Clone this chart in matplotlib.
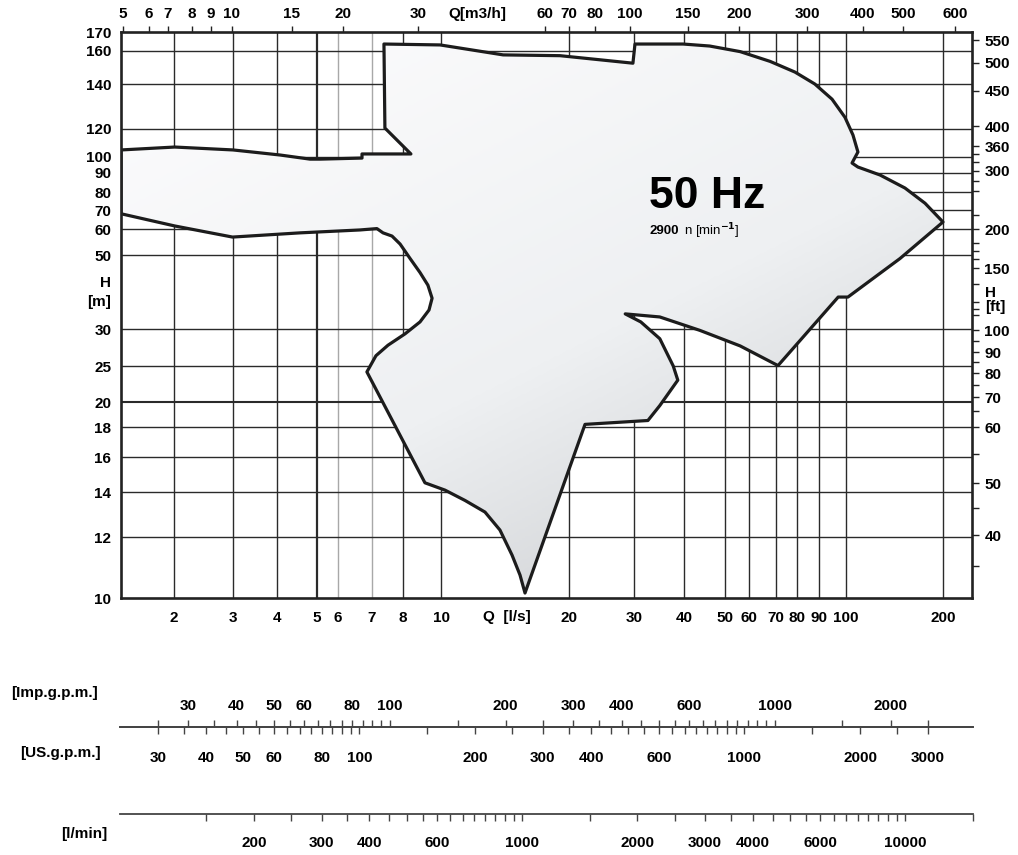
import numpy as np
import matplotlib
matplotlib.use("Agg")
import matplotlib.pyplot as plt
from matplotlib.patches import Polygon
from matplotlib.colors import LinearSegmentedColormap
from matplotlib.ticker import FixedLocator, FixedFormatter, NullLocator

plt.rcParams['font.family'] = ['Liberation Sans', 'DejaVu Sans']
plt.rcParams['font.weight'] = 'bold'

# ---- axis values and where the (hand drawn) chart puts them ----
q_ls_ticks = [2, 3, 4, 5, 6, 7, 8, 10, 20, 30, 40, 50, 60, 70, 80, 90, 100, 200]
q_ls_pos = [174, 233, 277, 317, 338, 372, 403, 441, 569, 634, 684, 725, 749, 776, 797, 819, 846, 943]

q_m3h_ticks = [5, 6, 7, 8, 9, 10, 15, 20, 30, 60, 70, 80, 100, 150, 200, 300, 400, 500, 600]
q_m3h_pos = [123, 149, 168, 192, 211, 232, 292, 343, 418, 545, 569, 595, 630, 688, 739, 807, 863, 903, 955]

h_m_ticks = [10, 12, 14, 16, 18, 20, 25, 30, 50, 60, 70, 80, 90, 100, 120, 140, 160, 170]
h_m_pos = [598, 537, 492, 457, 427, 402, 366, 329, 255, 229, 210, 192, 173, 157, 129, 84, 51, 33]
h_m_grid = [12, 14, 16, 18, 20, 25, 30, 50, 60, 70, 80, 90, 100, 120, 140, 160]

h_ft_ticks = [40, 50, 60, 70, 80, 90, 100, 150, 200, 300, 360, 400, 450, 500, 550]
h_ft_pos = [535, 483, 427, 397, 373, 352, 330, 268, 229, 171, 146, 126, 91, 63, 40]
h_ft_minor = [35, 45, 55, 65, 75, 85, 95, 110, 115, 120, 135, 160, 170, 180, 220, 260, 280, 320, 340]

# ---- duty area outline: Q [l/s], H [m] ----
area_q = [1.39, 2.01, 3.0, 4.07, 4.81, 5.13, 6.69, 6.69, 8.38, 7.40, 7.37, 9.95, 14.0, 19.05,
          29.8, 30.17, 39.8, 46.0, 56.1, 67.7, 79.0, 88.0, 94.7, 99.6, 105.1, 108.9, 104.4,
          108.9, 127.5, 152.4, 175.9, 200,
          147.1, 101.4, 97.0, 70.9, 56.1, 43.6, 34.8, 28.4, 31.2, 34.8, 37.6, 38.6, 34.8, 32.5,
          22.1, 15.76, 15.34, 14.69, 13.76, 12.69, 11.39, 10.22, 9.10,
          6.84, 7.12, 7.50, 8.10, 8.84, 9.32, 9.49, 9.26, 8.84, 8.34, 7.90, 7.63,
          7.34, 7.15, 6.63, 4.55, 2.99, 2.01, 1.39]
area_h = [104.7, 106.7, 104.7, 101.3, 98.6, 98.6, 99.3, 102.0, 102.0, 120.4, 163.8, 163.3,
          157.5, 157.0, 152.3, 163.8, 163.8, 162.7, 159.6, 153.4, 146.9, 140.0, 132.9, 124.9,
          115.4, 103.3, 96.1, 93.6, 88.9, 82.0, 73.6, 63.5,
          48.8, 37.4, 37.4, 25.05, 27.6, 29.8, 32.6, 33.3, 31.5, 28.6, 25.0, 22.9, 19.7, 18.5,
          18.2, 10.15, 10.71, 11.37, 12.29, 13.07, 13.6, 14.1, 14.5,
          24.1, 26.3, 27.7, 29.3, 31.5, 34.2, 37.1, 40.6, 44.3, 48.8, 54.0, 57.1,
          58.4, 60.2, 59.6, 58.4, 56.7, 61.5, 67.9]

# ---- conversion scales under the chart ----
us_ticks = [30, 35, 40, 45, 50, 55, 60, 65, 70, 75, 80, 85, 90, 95, 100, 150, 200, 250, 300,
            350, 400, 450, 500, 550, 600, 650, 700, 750, 800, 850, 900, 950, 1000, 1500, 2000,
            2500, 3000]
us_labels = [30, 40, 50, 60, 80, 100, 200, 300, 400, 600, 1000, 2000, 3000]
imp_ticks = [25, 30, 35, 40, 45, 50, 55, 60, 65, 70, 75, 80, 85, 90, 95, 100, 150, 200, 250,
             300, 350, 400, 450, 500, 550, 600, 650, 700, 750, 800, 850, 900, 950, 1000, 1500,
             2000, 2500]
imp_labels = [30, 40, 50, 60, 80, 100, 200, 300, 400, 600, 1000, 2000]
lmin_ticks = [150, 200, 250, 300, 350, 400, 450, 500, 550, 600, 650, 700, 750, 800, 850, 900,
              950, 1000, 1500, 2000, 2500, 3000, 3500, 4000, 4500, 5000, 5500, 6000, 6500, 7000,
              7500, 8000, 8500, 9000, 9500, 10000, 15000]
lmin_labels = [200, 300, 400, 600, 1000, 2000, 3000, 4000, 6000, 10000]
us_range = (23.9, 3930)
lmin_range = (89.4, 15000)
IMP_TO_US = 1.2


def log_scale(vals, pos):
    """piecewise log scale through the printed tick positions"""
    lv = np.log10(np.asarray(vals, float))
    p = np.asarray(pos, float)
    k0 = (p[1] - p[0]) / (lv[1] - lv[0])
    k1 = (p[-1] - p[-2]) / (lv[-1] - lv[-2])
    lv = np.r_[lv[0] - 2, lv, lv[-1] + 2]
    p = np.r_[p[0] - 2 * k0, p, p[-1] + 2 * k1]

    def fwd(v):
        v = np.asarray(v, float)
        return np.interp(np.log10(np.clip(v, 1e-6, None)), lv, p)

    def inv(q):
        return 10 ** np.interp(np.asarray(q, float), p, lv)
    return fwd, inv


W, H = 1018, 855
X0, Y0, X1, Y1 = 121, 32, 972, 598
FS = 11


def rect(x0, y0, x1, y1):
    return [x0 / W, 1 - y1 / H, (x1 - x0) / W, (y1 - y0) / H]


fig = plt.figure(figsize=(W / 100, H / 100), dpi=100)
ax = fig.add_axes(rect(X0, Y0, X1, Y1))

xf, xi = log_scale(q_ls_ticks, q_ls_pos)
yf, yi = log_scale(h_m_ticks, [-p for p in h_m_pos])
ax.set_xscale('function', functions=(xf, xi))
ax.set_yscale('function', functions=(yf, yi))

# grid
light_v = {6: '#a8a8a8', 7: '#a8a8a8'}
for q in q_ls_ticks:
    ax.axvline(q, color=light_v.get(q, '#2a2a2a'), lw=1.6 if q == 5 else 1.0, zorder=1)
for h in h_m_grid:
    ax.axhline(h, color='#2a2a2a', lw=1.5 if h == 20 else 1.0, zorder=1)

# duty area with a soft gray shading
area = Polygon(np.column_stack([area_q, area_h]), closed=True, facecolor='none',
               edgecolor='#1c1c1c', lw=2.3, joinstyle='round', zorder=4)
ax.add_patch(area)
gx, gy = np.meshgrid(np.linspace(0, 1, 300), np.linspace(0, 1, 300))
shade = np.clip(0.45 * gx + 0.6 * (1 - gy) - 0.1, 0, 1)
cmap = LinearSegmentedColormap.from_list('shade', ['#fbfbfc', '#eef0f2', '#c3c5c8'])
img = ax.imshow(shade, extent=(0, 1, 0, 1), origin='lower', transform=ax.transAxes,
                cmap=cmap, aspect='auto', zorder=3, interpolation='bilinear')
clip = Polygon(np.column_stack([area_q, area_h]), closed=True, transform=ax.transData)
img.set_clip_path(clip)

ax.set_xlim(xi(X0), xi(X1))
ax.set_ylim(yi(-Y1), yi(-Y0))

ax.xaxis.set_major_locator(FixedLocator(q_ls_ticks))
ax.xaxis.set_major_formatter(FixedFormatter([str(v) for v in q_ls_ticks]))
ax.xaxis.set_minor_locator(NullLocator())
ax.yaxis.set_major_locator(FixedLocator(h_m_ticks))
ax.yaxis.set_major_formatter(FixedFormatter([str(v) for v in h_m_ticks]))
ax.yaxis.set_minor_locator(NullLocator())
ax.tick_params(axis='x', length=0, pad=9, labelsize=FS)
ax.tick_params(axis='y', length=0, pad=7, labelsize=FS)
for s in ax.spines.values():
    s.set_linewidth(1.9)
    s.set_color('#222222')
    s.set_zorder(5)

# top axis: Q [m3/h]
ax_t = ax.twiny()
tf, ti = log_scale(q_m3h_ticks, q_m3h_pos)
ax_t.set_xscale('function', functions=(tf, ti))
ax_t.set_xlim(ti(X0), ti(X1))
ax_t.xaxis.set_major_locator(FixedLocator(q_m3h_ticks))
ax_t.xaxis.set_major_formatter(FixedFormatter([str(v) for v in q_m3h_ticks]))
ax_t.xaxis.set_minor_locator(NullLocator())
ax_t.tick_params(axis='x', direction='out', length=4.5, width=1, pad=3.5, labelsize=FS,
                 color='#222222')
for s in ax_t.spines.values():
    s.set_visible(False)

# right axis: H [ft]
ax_r = ax.twinx()
rf, ri = log_scale(h_ft_ticks, [-p for p in h_ft_pos])
ax_r.set_yscale('function', functions=(rf, ri))
ax_r.set_ylim(ri(-Y1), ri(-Y0))
ax_r.yaxis.set_major_locator(FixedLocator(h_ft_ticks))
ax_r.yaxis.set_major_formatter(FixedFormatter([str(v) for v in h_ft_ticks]))
ax_r.yaxis.set_minor_locator(FixedLocator(h_ft_minor))
ax_r.tick_params(axis='y', which='both', direction='out', length=5, width=1, pad=4,
                 labelsize=FS, color='#222222')
for s in ax_r.spines.values():
    s.set_visible(False)

# axis titles and motor data
fig.text(477 / W, 1 - 14 / H, 'Q[m3/h]', ha='center', va='center', fontsize=FS)
fig.text(507 / W, 1 - 617 / H, 'Q  [l/s]', ha='center', va='center', fontsize=FS)
fig.text(111 / W, 1 - 283 / H, 'H', ha='right', va='center', fontsize=FS)
fig.text(111 / W, 1 - 302 / H, '[m]', ha='right', va='center', fontsize=FS)
fig.text(985 / W, 1 - 293 / H, 'H', ha='left', va='center', fontsize=FS)
fig.text(985 / W, 1 - 307 / H, '[ft]', ha='left', va='center', fontsize=FS)
fig.text(707 / W, 1 - 196 / H, '50 Hz', ha='center', va='center', fontsize=32)
fig.text(650 / W, 1 - 231 / H, '2900', ha='left', va='center', fontsize=9.5)
fig.text(684 / W, 1 - 231 / H, 'n [min$^{-1}$]', ha='left', va='center', fontsize=9.5,
         fontweight='normal')


def conv_axis(y_line, lo, hi, ticks, labels, direction_down, pad):
    a = fig.add_axes(rect(120, y_line - 0.05, 973, y_line + 0.05))
    a.set_xscale('log')
    a.set_xlim(lo, hi)
    a.set_yticks([])
    a.patch.set_visible(False)
    for k, s in a.spines.items():
        s.set_visible(False)
    side = 'bottom' if direction_down else 'top'
    a.spines[side].set_visible(True)
    a.spines[side].set_linewidth(1.3)
    a.spines[side].set_color('#444444')
    a.xaxis.set_ticks_position(side)
    a.xaxis.set_label_position(side)
    a.xaxis.set_major_locator(FixedLocator(labels))
    a.xaxis.set_major_formatter(FixedFormatter([str(v) for v in labels]))
    a.xaxis.set_minor_locator(FixedLocator([t for t in ticks if t not in labels]))
    a.xaxis.set_minor_formatter(FixedFormatter([]))
    a.tick_params(axis='x', which='both', direction='out', length=5, width=1,
                  color='#444444', labelsize=FS, pad=pad)
    return a


conv_axis(727, us_range[0], us_range[1], us_ticks, us_labels, True, 12)
conv_axis(727, us_range[0] / IMP_TO_US, us_range[1] / IMP_TO_US, imp_ticks, imp_labels, False, 5)
conv_axis(814, lmin_range[0], lmin_range[1], lmin_ticks, lmin_labels, True, 11)

fig.text(55 / W, 1 - 693 / H, '[Imp.g.p.m.]', ha='center', va='center', fontsize=FS)
fig.text(60 / W, 1 - 753 / H, '[US.g.p.m.]', ha='center', va='center', fontsize=FS)
fig.text(84 / W, 1 - 834 / H, '[l/min]', ha='center', va='center', fontsize=FS)

fig.savefig('out.png', dpi=100)
